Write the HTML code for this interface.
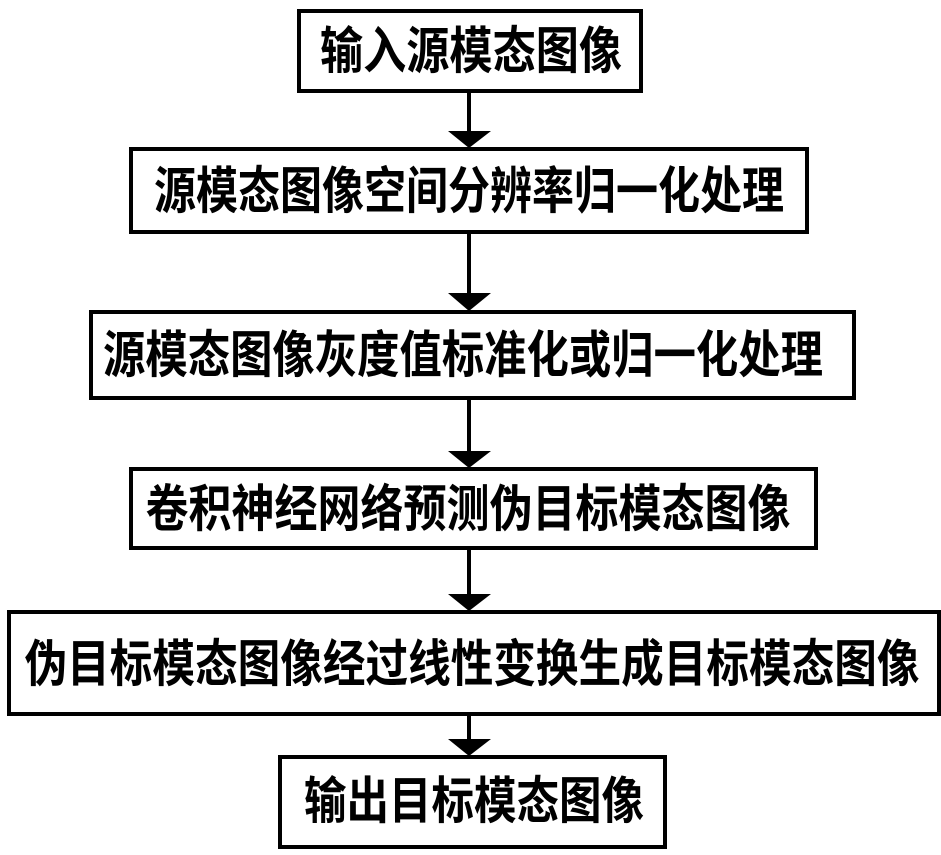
<!DOCTYPE html>
<html><head><meta charset="utf-8"><style>html,body{margin:0;padding:0;background:#fff}svg{display:block}</style></head>
<body>
<svg width="941" height="855" viewBox="0 0 941 855" xmlns="http://www.w3.org/2000/svg">
<g fill="#fff" stroke="#000" stroke-width="4">
<rect x="299" y="11" width="342" height="80"/>
<rect x="131" y="149" width="676" height="83"/>
<rect x="91" y="312" width="763" height="86"/>
<rect x="131" y="469" width="685" height="79"/>
<rect x="9" y="612" width="930" height="102"/>
<rect x="280" y="757" width="385" height="90"/>
</g>
<g stroke="#000" stroke-width="4">
<line x1="469" y1="91" x2="469" y2="135"/>
<line x1="469" y1="232" x2="469" y2="297"/>
<line x1="469" y1="398" x2="469" y2="455"/>
<line x1="469" y1="548" x2="469" y2="598"/>
<line x1="469" y1="714" x2="469" y2="743"/>
</g>
<g fill="#000">
<polygon points="448,131 491,131 469,148"/>
<polygon points="448,293 491,293 469,311"/>
<polygon points="448,451 491,451 469,468"/>
<polygon points="448,594 491,594 469,611"/>
<polygon points="448,739 491,739 469,756"/>
</g>
<g font-family="'Liberation Sans','Noto Sans CJK SC','WenQuanYi Zen Hei',sans-serif" font-weight="bold" font-size="42" fill="#000" text-anchor="middle" dominant-baseline="central">
<g transform="translate(471,51) scale(1,1.2)"><text x="0" y="0" textLength="302" lengthAdjust="spacingAndGlyphs">输入源模态图像</text></g>
<g transform="translate(469,191) scale(1,1.2)"><text x="0" y="0" textLength="630" lengthAdjust="spacingAndGlyphs">源模态图像空间分辨率归一化处理</text></g>
<g transform="translate(463,355) scale(1,1.2)"><text x="0" y="0" textLength="720" lengthAdjust="spacingAndGlyphs">源模态图像灰度值标准化或归一化处理</text></g>
<g transform="translate(468,509) scale(1,1.2)"><text x="0" y="0" textLength="645" lengthAdjust="spacingAndGlyphs">卷积神经网络预测伪目标模态图像</text></g>
<g transform="translate(472,664) scale(1,1.2)"><text x="0" y="0" textLength="895" lengthAdjust="spacingAndGlyphs">伪目标模态图像经过线性变换生成目标模态图像</text></g>
<g transform="translate(474,801) scale(1,1.2)"><text x="0" y="0" textLength="340" lengthAdjust="spacingAndGlyphs">输出目标模态图像</text></g>
</g>
</svg>
</body></html>
